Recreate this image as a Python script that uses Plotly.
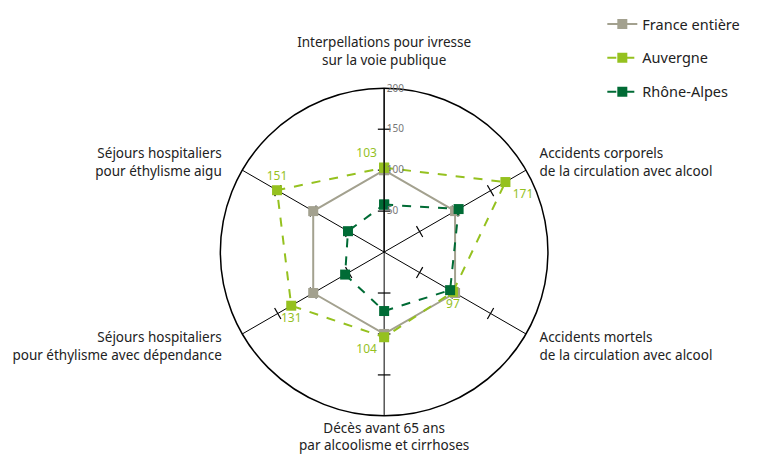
import plotly.graph_objects as go

categories = [
    'Interpellations pour ivresse<br>sur la voie publique',
    'Accidents corporels<br>de la circulation avec alcool',
    'Accidents mortels<br>de la circulation avec alcool',
    'Décès avant 65 ans<br>par alcoolisme et cirrhoses',
    'Séjours hospitaliers<br>pour éthylisme avec dépendance',
    'Séjours hospitaliers<br>pour éthylisme aigu',
]
france = [100, 100, 100, 100, 100, 100]
auvergne = [103, 171, 97, 104, 131, 151]
rhone_alpes = [58, 105, 93, 72, 55, 51]
radial_ticks = [50, 100, 150, 200]

grey = '#a3a18f'
light_green = '#95c11f'
dark_green = '#006b35'

# close the polygons
cats_closed = categories + categories[:1]

# padding so the labels sit a bit further from the circle, like the original
pad = '&nbsp;' * 3
lpad = '&nbsp;' * 5
tick_text = [
    categories[0] + '<br>&nbsp;',
    pad + categories[1].replace('<br>', '<br>' + pad),
    pad + categories[2].replace('<br>', '<br>' + pad),
    categories[3],
    categories[4].replace('<br>', lpad + '<br>') + lpad,
    categories[5].replace('<br>', lpad + '<br>') + lpad,
]

fig = go.Figure()

# small tick marks across every spoke
tick_r, tick_theta, tick_angle = [], [], []
for i, c in enumerate(categories):
    spoke = 90 - 60 * i
    for v in radial_ticks[:3]:
        tick_r.append(v)
        tick_theta.append(c)
        tick_angle.append(-spoke)
fig.add_trace(go.Scatterpolar(
    r=tick_r, theta=tick_theta, mode='markers', showlegend=False, hoverinfo='skip',
    marker=dict(symbol='line-ns', size=9, angle=tick_angle,
                line=dict(color='black', width=1.2))))

fig.add_trace(go.Scatterpolar(
    r=france + france[:1], theta=cats_closed, name='France entière',
    mode='lines+markers', legendgroup='a',
    line=dict(color=grey, width=2),
    marker=dict(symbol='square', size=10, color=grey)))

fig.add_trace(go.Scatterpolar(
    r=auvergne + auvergne[:1], theta=cats_closed, name='Auvergne',
    mode='lines+markers+text', legendgroup='b',
    text=[str(v) for v in auvergne] + [''],
    textposition=['top left', 'bottom right', 'bottom center', 'bottom left',
                  'bottom center', 'top center', 'top left'],
    textfont=dict(color=light_green, size=12),
    line=dict(color=light_green, width=2, dash='dash'),
    marker=dict(symbol='square', size=10, color=light_green)))

fig.add_trace(go.Scatterpolar(
    r=rhone_alpes + rhone_alpes[:1], theta=cats_closed, name='Rhône-Alpes',
    mode='lines+markers', legendgroup='c',
    line=dict(color=dark_green, width=2, dash='dash'),
    marker=dict(symbol='square', size=10, color=dark_green)))

fig.update_layout(
    width=782, height=468,
    margin=dict(l=0, r=0, t=0, b=0, autoexpand=False),
    paper_bgcolor='white',
    font=dict(family='Noto Sans', size=13.5, color='#222222'),
    polar=dict(
        domain=dict(x=[0.271, 0.691], y=[0.1285, 0.8285]),
        bgcolor='white',
        angularaxis=dict(
            rotation=90, direction='clockwise',
            showline=True, linecolor='black', linewidth=1.5,
            showgrid=True, gridcolor='black', gridwidth=1.2,
            tickvals=categories, ticktext=tick_text,
            ticks='', tickfont=dict(size=13.5, color='#222222')),
        radialaxis=dict(
            range=[0, 200], angle=90, tickangle=90,
            tickvals=radial_ticks, showgrid=False,
            showline=True, linecolor='black', linewidth=1.2,
            ticks='', tickfont=dict(size=10, color='#777777')),
    ),
    legend=dict(x=0.76, y=1.0, xanchor='left', yanchor='top',
                font=dict(size=14.5, color='#222222'), tracegroupgap=12),
)

fig.write_html('out.html')
